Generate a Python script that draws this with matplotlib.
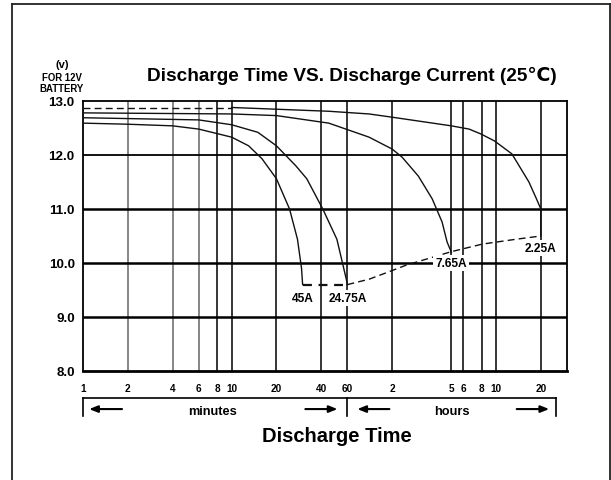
import matplotlib
matplotlib.use("Agg")
import matplotlib.pyplot as plt
from matplotlib.lines import Line2D
import matplotlib.transforms as mtransforms

plt.rcParams['font.family'] = ['Liberation Sans', 'DejaVu Sans']
plt.rcParams['font.weight'] = 'bold'

# ---- data (time in minutes, voltage in V) ----
t_45 = [1, 2, 4, 6, 10, 13, 16, 20, 24.5, 27.7, 29.5, 30]
v_45 = [12.59, 12.57, 12.54, 12.48, 12.33, 12.17, 11.93, 11.56, 11.0, 10.44, 9.9, 9.6]

t_2475 = [1, 6, 10, 15, 20, 27, 32, 41, 51, 59, 60]
v_2475 = [12.69, 12.65, 12.56, 12.42, 12.17, 11.80, 11.56, 11.0, 10.44, 9.7, 9.6]

t_765 = [1, 10, 20, 45, 84, 120, 140, 180, 223, 260, 281, 300]
v_765 = [12.78, 12.76, 12.73, 12.59, 12.33, 12.11, 11.96, 11.61, 11.19, 10.76, 10.39, 10.2]

t_225_dash = [1, 10]
v_225_dash = [12.87, 12.87]
t_225 = [10, 45, 84, 120, 300, 395, 474, 586, 767, 998, 1125, 1200, 1200]
v_225 = [12.88, 12.81, 12.76, 12.70, 12.54, 12.48, 12.39, 12.26, 12.02, 11.5, 11.18, 11.0, 10.5]

t_end = [30, 60, 84, 120, 149, 300, 485, 818, 1200]
v_end = [9.6, 9.6, 9.70, 9.86, 9.96, 10.21, 10.35, 10.44, 10.5]

labels = ["45A", "24.75A", "7.65A", "2.25A"]
label_pos = [(30, 9.36), (60, 9.36), (300, 10.0), (1200, 10.28)]

xtick_vals = [1, 2, 4, 6, 8, 10, 20, 40, 60, 120, 300, 360, 480, 600, 1200]
xtick_labels = ["1", "2", "4", "6", "8", "10", "20", "40", "60", "2", "5", "6", "8", "10", "20"]
ytick_vals = [8, 9, 10, 11, 12, 13]
ytick_labels = ["8.0", "9.0", "10.0", "11.0", "12.0", "13.0"]

# ---- figure ----
W, H = 611, 481
fig = plt.figure(figsize=(W / 100, H / 100), dpi=100)
ax = fig.add_axes([83 / W, 1 - 372 / H, (567 - 83) / W, (372 - 102) / H])
ax.set_xscale('log')
ax.set_xlim(1, 1800)
ax.set_ylim(8, 13)

# grid lines
for xv in xtick_vals[1:]:
    col = '#666666' if xv in (2, 4, 6) else 'black'
    ax.axvline(xv, color=col, lw=1.1, zorder=1)
for yv in [9, 10, 11]:
    ax.axhline(yv, color='black', lw=1.8, zorder=1)
ax.axhline(12, color='black', lw=1.3, zorder=1)

# curves
lc = '#111111'
ax.plot(t_45, v_45, color=lc, lw=1.0, zorder=3)
ax.plot(t_2475, v_2475, color=lc, lw=1.0, zorder=3)
ax.plot(t_765, v_765, color=lc, lw=1.0, zorder=3)
ax.plot(t_225, v_225, color=lc, lw=1.0, zorder=3)
ax.plot(t_225_dash, v_225_dash, color=lc, lw=1.0, ls=(0, (5, 3)), zorder=3)
ax.plot(t_end[:2], v_end[:2], color=lc, lw=1.6, ls=(0, (4, 3)), zorder=3)
ax.plot(t_end[1:], v_end[1:], color=lc, lw=1.0, ls=(0, (5, 3)), zorder=3)

for lab, (xx, yy) in zip(labels, label_pos):
    ax.text(xx, yy, lab, ha='center', va='center', fontsize=8.6, fontweight='bold',
            zorder=5, bbox=dict(facecolor='white', edgecolor='none', pad=1.5))

# ticks
ax.set_xticks(xtick_vals)
ax.set_xticklabels(xtick_labels, fontsize=7.2, fontweight='bold')
ax.xaxis.set_minor_locator(matplotlib.ticker.NullLocator())
ax.set_yticks(ytick_vals)
ax.set_yticklabels(ytick_labels, fontsize=9.6, fontweight='bold')
ax.tick_params(axis='both', length=0)
ax.tick_params(axis='x', pad=9)
ax.tick_params(axis='y', pad=6)
for s in ax.spines.values():
    s.set_linewidth(1.3)
ax.spines['bottom'].set_linewidth(2.0)

# titles
fig.text(352 / W, 1 - 76 / H, "Discharge Time VS. Discharge Current (25℃)",
         ha='center', va='center', fontsize=13.7, fontweight='bold')
fig.text(62 / W, 1 - 65 / H, "(v)", ha='center', va='center', fontsize=8, fontweight='bold')
fig.text(62 / W, 1 - 78 / H, "FOR 12V", ha='center', va='center', fontsize=6.9, fontweight='bold')
fig.text(62 / W, 1 - 89 / H, "BATTERY", ha='center', va='center', fontsize=6.9, fontweight='bold')
fig.text(337 / W, 1 - 437 / H, "Discharge Time", ha='center', va='center',
         fontsize=14.5, fontweight='bold')

# bracket below axis (x in data units, y in axes fraction)
tr = mtransforms.blended_transform_factory(ax.transData, ax.transAxes)
yb, yb2, ya = -0.1, -0.167, -0.141
ax.add_line(Line2D([1, 1518], [yb, yb], transform=tr, color='black', lw=1.2, clip_on=False))
for xv in [1, 60, 1518]:
    ax.add_line(Line2D([xv, xv], [yb, yb2], transform=tr, color='black', lw=1.2, clip_on=False))
arrows = [(1.83, 1.1), (31.3, 51.5), (115, 70), (826, 1366)]
for x0, x1 in arrows:
    ax.annotate("", xy=(x1, ya), xytext=(x0, ya), xycoords=tr, textcoords=tr,
                arrowprops=dict(arrowstyle='-|>,head_length=0.5,head_width=0.2',
                                color='black', lw=1.5, shrinkA=0, shrinkB=0),
                annotation_clip=False)
ax.text(7.45, ya - 0.006, "minutes", transform=tr, ha='center', va='center', fontsize=9.2, fontweight='bold')
ax.text(304, ya - 0.006, "hours", transform=tr, ha='center', va='center', fontsize=9.2, fontweight='bold')

# outer frame
fc = '#222222'
fig.add_artist(Line2D([12 / W, 12 / W], [0, 1 - 5 / H], color=fc, lw=1.3))
fig.add_artist(Line2D([12 / W, 610 / W], [1 - 5 / H, 1 - 5 / H], color=fc, lw=1.3))
fig.add_artist(Line2D([610 / W, 610 / W], [0, 1 - 5 / H], color=fc, lw=1.3))

fig.savefig("out.png", dpi=100)
